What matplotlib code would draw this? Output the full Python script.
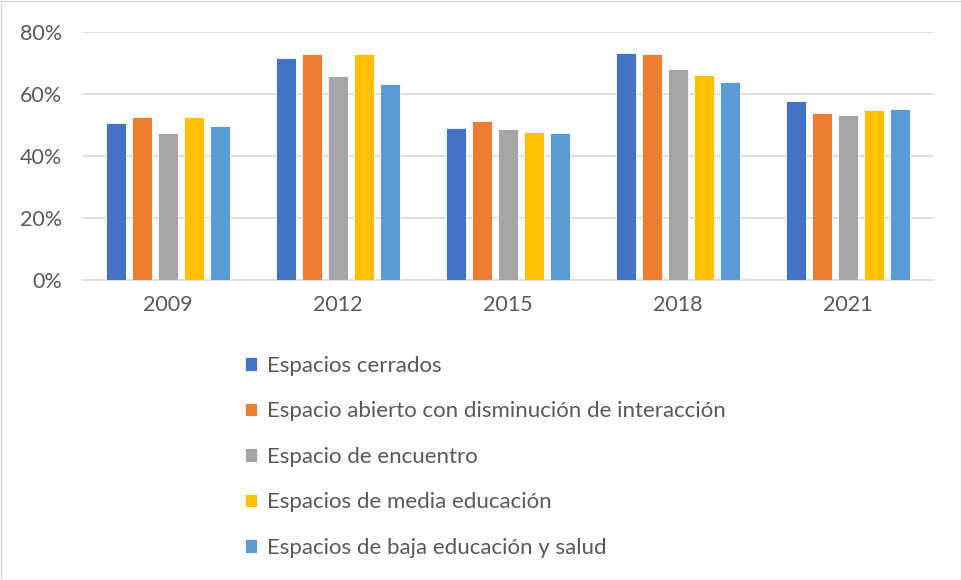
import matplotlib.pyplot as plt
import numpy as np
from matplotlib.patches import Rectangle

years = ["2009", "2012", "2015", "2018", "2021"]
series_names = [
    "Espacios cerrados",
    "Espacio abierto con disminución de interacción",
    "Espacio de encuentro",
    "Espacios de media educación",
    "Espacios de baja educación y salud",
]
cerrados = [50.6, 71.6, 49.1, 73.2, 57.7]
abierto = [52.5, 73.0, 51.2, 73.0, 53.8]
encuentro = [47.4, 65.7, 48.8, 68.1, 53.3]
media_edu = [52.5, 73.0, 47.9, 66.1, 54.9]
baja_edu = [49.7, 63.3, 47.5, 63.8, 55.2]
colors = ["#4472C4", "#ED7D31", "#A5A5A5", "#FFC000", "#5B9BD5"]

plt.rcParams['font.family'] = ['Lato', 'DejaVu Sans']
text_color = "#595959"

fig = plt.figure(figsize=(9.61, 5.80), dpi=100)
ax = fig.add_axes([83/961, 1-280/580, 850/961, 248/580])

x = np.arange(len(years))
stride = 0.153
width = 0.123
all_series = [cerrados, abierto, encuentro, media_edu, baja_edu]
for i, vals in enumerate(all_series):
    ax.bar(x + (i - 2) * stride, np.array(vals) / 100, width,
           color=colors[i], label=series_names[i], zorder=3,
           edgecolor="white", linewidth=0.6)

ax.set_xlim(-0.5, 4.5)
ax.set_ylim(0, 0.8)
ax.set_yticks([0, 0.2, 0.4, 0.6, 0.8])
ax.set_yticklabels(["0%", "20%", "40%", "60%", "80%"])
ax.set_xticks(x)
ax.set_xticklabels(years)
ax.tick_params(axis='both', length=0, labelsize=15.5, colors=text_color)
ax.tick_params(axis='y', pad=15)
ax.tick_params(axis='x', pad=11)
ax.yaxis.grid(True, color="#d9d9d9", linewidth=1.2, zorder=0)
for s in ["top", "right", "left"]:
    ax.spines[s].set_visible(False)
ax.spines["bottom"].set_color("#d9d9d9")
ax.spines["bottom"].set_linewidth(1.2)

fig.legend(loc="upper left", bbox_to_anchor=(245/961, 1-356/580),
           frameon=False, fontsize=16, labelcolor=text_color,
           borderpad=0, borderaxespad=0,
           handlelength=0.55, handleheight=0.55, handletextpad=0.45,
           labelspacing=1.145)

fig.patches.append(Rectangle((0.5/961, 0.5/580), 1-1/961, 1-1/580,
                             transform=fig.transFigure, fill=False,
                             edgecolor="#d9d9d9", linewidth=1))

fig.savefig("out.png", dpi=100)
